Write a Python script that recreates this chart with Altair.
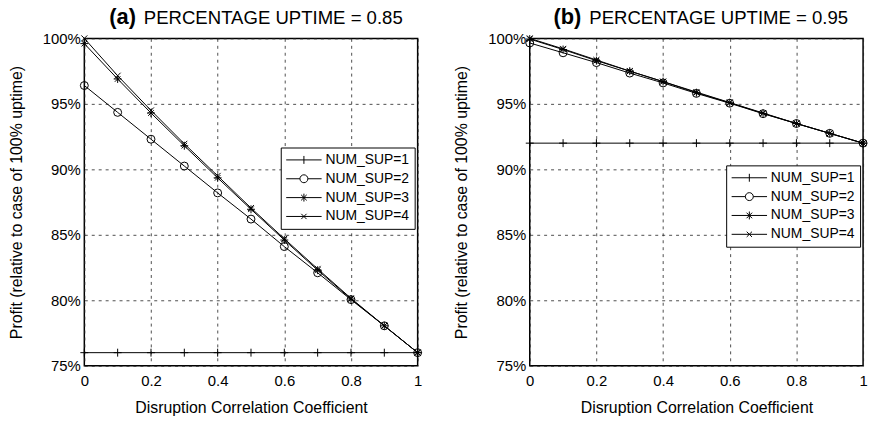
import altair as alt
import pandas as pd

FONT = "Liberation Sans"

x_vals = [0.0, 0.1, 0.2, 0.3, 0.4, 0.5, 0.6, 0.7, 0.8, 0.9, 1.0]
series_names = ["NUM_SUP=1", "NUM_SUP=2", "NUM_SUP=3", "NUM_SUP=4"]
x_ticks = [0, 0.2, 0.4, 0.6, 0.8, 1.0]
y_ticks = [75, 80, 85, 90, 95, 100]

# (a) PERCENTAGE UPTIME = 0.85
a_sup1 = [76.0, 76.0, 76.0, 76.0, 76.0, 76.0, 76.0, 76.0, 76.0, 76.0, 76.0]
a_sup2 = [96.4, 94.35, 92.3, 90.25, 88.2, 86.2, 84.1, 82.1, 80.05, 78.05, 76.0]
a_sup3 = [99.6, 96.9, 94.3, 91.8, 89.35, 86.95, 84.6, 82.3, 80.1, 78.05, 76.0]
a_sup4 = [100.0, 97.15, 94.5, 91.95, 89.5, 87.05, 84.7, 82.4, 80.15, 78.05, 76.0]

# (b) PERCENTAGE UPTIME = 0.95
b_sup1 = [92.0, 92.0, 92.0, 92.0, 92.0, 92.0, 92.0, 92.0, 92.0, 92.0, 92.0]
b_sup2 = [99.65, 98.9, 98.15, 97.35, 96.6, 95.8, 95.05, 94.25, 93.5, 92.75, 92.0]
b_sup3 = [99.95, 99.15, 98.3, 97.5, 96.7, 95.85, 95.08, 94.27, 93.5, 92.75, 92.0]
b_sup4 = [100.0, 99.2, 98.35, 97.5, 96.7, 95.9, 95.1, 94.3, 93.5, 92.75, 92.0]

marker_shapes = [
    "M-1,0L1,0M0,-1L0,1",
    "circle",
    "M-1,0L1,0M0,-1L0,1M-0.7,-0.7L0.7,0.7M-0.7,0.7L0.7,-0.7",
    "M-0.75,-0.75L0.75,0.75M-0.75,0.75L0.75,-0.75",
]
# legend symbols: a 36px line with the marker in its middle (unit = 7px)
legend_shapes = [
    "M-1,0L4.1,0M1.55,-0.57L1.55,0.57",
    "M-1,0L0.98,0M2.12,0L4.1,0M2.12,0A0.57,0.57 0 1,1 0.98,0A0.57,0.57 0 1,1 2.12,0",
    "M-1,0L4.1,0M1.55,-0.57L1.55,0.57M1.15,-0.4L1.95,0.4M1.15,0.4L1.95,-0.4",
    "M-1,0L4.1,0M1.17,-0.38L1.93,0.38M1.17,0.38L1.93,-0.38",
]


def build_df(lists):
    rows = []
    for name, vals in zip(series_names, lists):
        for xv, yv in zip(x_vals, vals):
            rows.append({"x": xv, "y": yv, "series": name})
    return pd.DataFrame(rows)


def panel(df, tag, subtitle, legend_x, legend_y, width):
    base = alt.Chart(df)
    xenc = alt.X(
        "x:Q",
        scale=alt.Scale(domain=[0, 1], nice=False),
        axis=alt.Axis(values=x_ticks, format="~g", labelFlush=False,
                      title="Disruption Correlation Coefficient"),
    )
    yenc = alt.Y(
        "y:Q",
        scale=alt.Scale(domain=[75, 100], nice=False, zero=False),
        axis=alt.Axis(values=y_ticks, labelExpr="datum.value + '%'",
                      labelFlush=False,
                      title="Profit (relative to case of 100% uptime)"),
    )
    lines = base.mark_line(color="black", strokeWidth=1).encode(
        x=xenc, y=yenc, detail="series:N"
    )
    pts = base.mark_point(filled=False, color="black", strokeWidth=1, size=64,
                          opacity=1).encode(
        x="x:Q",
        y="y:Q",
        shape=alt.Shape("series:N",
                        scale=alt.Scale(domain=series_names, range=marker_shapes),
                        legend=None),
    )
    leg = base.mark_point(filled=False, color="black", strokeWidth=0, size=0.01,
                          opacity=0).encode(
        x="x:Q",
        y="y:Q",
        shape=alt.Shape(
            "series:N",
            scale=alt.Scale(domain=series_names, range=legend_shapes),
            legend=alt.Legend(
                title=None, orient="none", legendX=legend_x, legendY=legend_y,
                symbolSize=196, symbolOpacity=1, symbolStrokeColor="black",
                symbolStrokeWidth=1, symbolFillColor="transparent",
                labelFont=FONT, labelFontSize=14, labelColor="black",
                strokeColor="black", fillColor="white", padding=5,
                rowPadding=4, labelOffset=25,
            ),
        ),
    )
    tag_df = pd.DataFrame({"t": [tag], "s": [subtitle]})
    tag_txt = alt.Chart(tag_df).mark_text(
        align="right", baseline="alphabetic", font=FONT, fontSize=22,
        fontWeight="bold", color="black"
    ).encode(x=alt.value(52), y=alt.value(-14), text="t:N")
    sub_txt = alt.Chart(tag_df).mark_text(
        align="left", baseline="alphabetic", font=FONT, fontSize=18.7,
        color="black"
    ).encode(x=alt.value(60), y=alt.value(-14), text="s:N")
    return (
        alt.layer(lines, pts, leg, tag_txt, sub_txt)
        .resolve_scale(shape="independent")
        .properties(width=width, height=330)
    )


left = panel(build_df([a_sup1, a_sup2, a_sup3, a_sup4]), "(a)",
             "PERCENTAGE UPTIME = 0.85", 198, 110, 336)
right = panel(build_df([b_sup1, b_sup2, b_sup3, b_sup4]), "(b)",
              "PERCENTAGE UPTIME = 0.95", 198, 128, 336)

chart = (
    alt.hconcat(left, right, spacing=28)
    .resolve_scale(shape="independent", x="independent", y="independent")
    .resolve_legend(shape="independent")
    .properties(padding={"left": 7, "top": 4, "right": 2, "bottom": 4},
                background="white")
    .configure_view(stroke="black", strokeWidth=1.5)
    .configure_axis(
        grid=True, gridColor="#222", gridDash=[3, 4], gridWidth=0.8,
        domain=False, ticks=False,
        labelFont=FONT, labelFontSize=15, labelColor="black",
        titleFont=FONT, titleFontSize=16, titleFontWeight="normal",
        titleColor="black",
    )
    .configure_axisX(labelPadding=8, titlePadding=11)
    .configure_axisY(labelPadding=4, titlePadding=18)
)

chart.save("out.html", embed_options={"renderer": "svg", "actions": False})
